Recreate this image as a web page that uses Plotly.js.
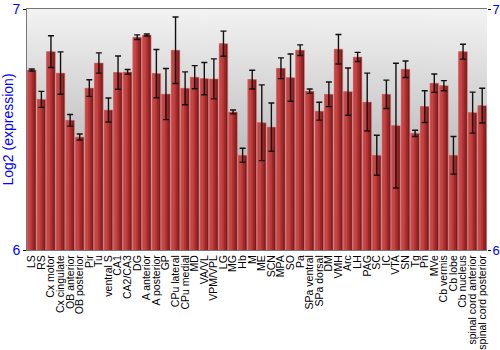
<!DOCTYPE html>
<html>
<head>
<meta charset="utf-8">
<script src="https://cdn.plot.ly/plotly-3.0.1.min.js"></script>
<style>html,body{margin:0;padding:0;background:#fff;}#chart{width:500px;height:350px;}</style>
</head>
<body>
<div id="chart"></div>
<script>
const regions = ["LS","RS","Cx motor","Cx cingulate","OB anterior","OB posterior","Pir","Tu","ventral S","CA1","CA2/CA3","DG","A anterior","A posterior","GP","CPu lateral","CPu medial","MD","VA/VL","VPM/VPL","LG","MG","Hb","M","ME","SCN","MPA","SO","Pa","SPa ventral","SPa dorsal","DM","VMH","Arc","LH","PAG","SC","IC","VTA","SN","Tg","Pn","MVe","Cb vermis","Cb lobe","Cb nucleus","spinal cord anterior","spinal cord posterior"];
const expression = [6.747,6.625,6.823,6.734,6.538,6.469,6.672,6.776,6.581,6.736,6.739,6.883,6.892,6.732,6.647,6.829,6.671,6.717,6.711,6.710,6.856,6.573,6.393,6.707,6.528,6.510,6.754,6.715,6.829,6.659,6.576,6.646,6.833,6.657,6.801,6.614,6.393,6.646,6.516,6.750,6.484,6.595,6.692,6.682,6.393,6.823,6.570,6.599];
const errors = [0.004,0.033,0.066,0.088,0.024,0.0125,0.0345,0.042,0.050,0.069,0.010,0.0095,0.004,0.100,0.106,0.138,0.068,0.048,0.067,0.083,0.052,0.008,0.029,0.039,0.157,0.100,0.043,0.098,0.022,0.009,0.037,0.051,0.061,0.098,0.019,0.120,0.083,0.059,0.259,0.034,0.013,0.066,0.038,0.021,0.078,0.031,0.085,0.072];
const yTicks = [6, 7];

// background gradient for the plot area
const cv = document.createElement('canvas');
cv.width = 4; cv.height = 240;
const ctx = cv.getContext('2d');
const g = ctx.createLinearGradient(0, 0, 0, 240);
g.addColorStop(0, '#f3f3f3');
g.addColorStop(1, '#9c9c9c');
ctx.fillStyle = g; ctx.fillRect(0, 0, 4, 240);
const bgURL = cv.toDataURL();

function layer(color, width, offset) {
  return {type:'bar', x: regions, y: expression, width: width, offset: offset,
    marker:{color: color, line:{width:0}}, hoverinfo:'skip', showlegend:false};
}
const traces = [
  layer('#7c1c1c', 0.9, -0.45),
  layer('#9a2828', 0.72, -0.45),
  layer('#b53535', 0.52, -0.45),
  layer('#c64444', 0.32, -0.43),
  {type:'bar', x: regions, y: expression, width: 0.9, offset: -0.45,
   marker:{color:'rgba(0,0,0,0)', line:{color:'rgba(225,130,130,0.55)', width:1}},
   error_y:{type:'data', array: errors, visible:true, color:'#111', thickness:1.4, width:3},
   showlegend:false},
  {type:'scatter', x:[regions[0]], y:[yTicks[0]], yaxis:'y2', mode:'markers',
   marker:{opacity:0}, showlegend:false, hoverinfo:'skip'}
];

const layout = {
  width:500, height:350,
  margin:{l:27, r:13, t:9, b:100, pad:0},
  paper_bgcolor:'#ffffff', plot_bgcolor:'rgba(0,0,0,0)',
  barmode:'overlay', bargap:0.1,
  font:{family:'"Liberation Sans", Arial, sans-serif', color:'#000'},
  images:[{source:bgURL, xref:'paper', yref:'paper', x:0, y:1, sizex:1, sizey:1,
           sizing:'stretch', layer:'below'}],
  xaxis:{type:'category', tickangle:-90, dtick:1, ticks:'', showgrid:false,
         tickfont:{size:10.5, color:'#000'}, showline:true, linecolor:'#777', linewidth:1,
         mirror:true, automargin:false, range:[-0.5, regions.length-0.5]},
  yaxis:{range:[6,7], tickvals:yTicks, ticktext:yTicks.map(String), ticks:'outside', ticklen:3,
         tickcolor:'#000', tickfont:{size:14, color:'#0000ff'}, showgrid:false, zeroline:false,
         showline:true, linecolor:'#777', linewidth:1, automargin:false,
         title:{text:'Log2 (expression)', font:{size:14, color:'#0000ff'}, standoff:2}},
  yaxis2:{range:[6,7], overlaying:'y', side:'right', tickvals:yTicks, ticktext:yTicks.map(String),
          ticks:'outside', ticklen:3, tickcolor:'#000', tickfont:{size:13, color:'#0000ff'},
          ticklabelstandoff:-1,
          showgrid:false, zeroline:false, showline:false, automargin:false}
};
Plotly.newPlot('chart', traces, layout, {displayModeBar:false, staticPlot:true});
</script>
</body>
</html>
